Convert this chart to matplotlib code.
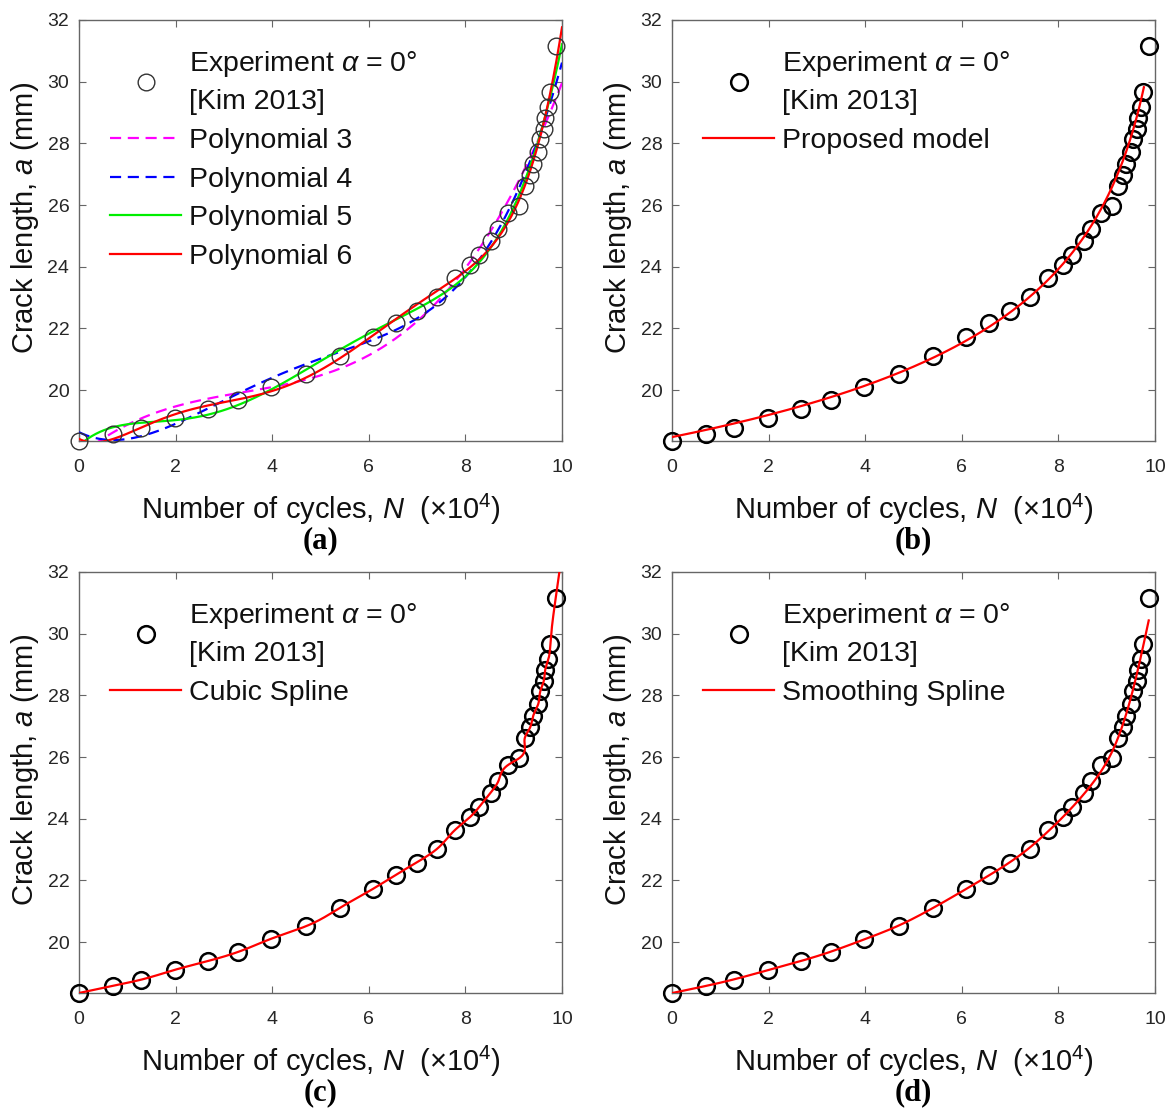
import numpy as np
import matplotlib
matplotlib.use("Agg")
import matplotlib.pyplot as plt
from matplotlib.lines import Line2D

# ---------------- data ----------------
N_exp = [0.00, 0.70, 1.28, 1.98, 2.68, 3.29, 3.98, 4.69, 5.40, 6.08,
         6.57, 6.99, 7.41, 7.78, 8.10, 8.29, 8.52, 8.68, 8.89, 9.12,
         9.23, 9.34, 9.40, 9.51, 9.55, 9.62, 9.65, 9.72, 9.76, 9.87]
a_exp = [18.35, 18.58, 18.78, 19.10, 19.39, 19.68, 20.11, 20.51, 21.11, 21.72,
         22.19, 22.58, 23.02, 23.63, 24.06, 24.39, 24.84, 25.21, 25.75, 25.97,
         26.62, 26.96, 27.32, 27.73, 28.13, 28.45, 28.81, 29.18, 29.68, 31.16]
# proposed-model curve
model_N = [0.00, 0.70, 1.28, 1.98, 2.68, 3.29, 3.98, 4.69, 5.40, 6.08,
           6.57, 6.99, 7.41, 7.78, 8.10, 8.52, 8.89, 9.23, 9.51, 9.77]
model_a = [18.35, 18.63, 18.87, 19.25, 19.56, 19.90, 20.28, 20.70, 21.17, 21.69,
           22.12, 22.46, 22.98, 23.52, 24.00, 24.72, 25.58, 26.56, 27.70, 29.95]
poly_degrees = [3, 4, 5, 6]
poly_labels = ["Polynomial 3", "Polynomial 4", "Polynomial 5", "Polynomial 6"]
poly_colors = ["#FF00FF", "#0000FF", "#00EE00", "#FF0000"]
poly_dashed = [True, True, False, False]
smooth_alpha = 0.03         # smoothing-spline penalty
x_ticks = [0, 2, 4, 6, 8, 10]
y_ticks = [20, 22, 24, 26, 28, 30, 32]
panel_tags = ["(a)", "(b)", "(c)", "(d)"]
exp_label = "Experiment $\\alpha$ = 0\u00b0\n[Kim 2013]"

N = np.array(N_exp)
a = np.array(a_exp)

# ---------------- helper fits (from the data) ----------------
def natural_spline(x, y):
    n = len(x)
    h = np.diff(x)
    A = np.zeros((n, n)); b = np.zeros(n)
    A[0, 0] = 1.0
    A[-1, -1] = 1.0
    for i in range(1, n - 1):
        A[i, i - 1] = h[i - 1]
        A[i, i] = 2 * (h[i - 1] + h[i])
        A[i, i + 1] = h[i]
        b[i] = 6 * ((y[i + 1] - y[i]) / h[i] - (y[i] - y[i - 1]) / h[i - 1])
    return np.linalg.solve(A, b)

def eval_spline(x, y, M, xq):
    xq = np.asarray(xq, dtype=float)
    xc = np.clip(xq, x[0], x[-1])
    idx = np.clip(np.searchsorted(x, xc) - 1, 0, len(x) - 2)
    x0, x1 = x[idx], x[idx + 1]
    hh = x1 - x0
    s = (M[idx] * (x1 - xc) ** 3 / (6 * hh) + M[idx + 1] * (xc - x0) ** 3 / (6 * hh)
         + (y[idx] / hh - M[idx] * hh / 6) * (x1 - xc)
         + (y[idx + 1] / hh - M[idx + 1] * hh / 6) * (xc - x0))
    hl = x[-1] - x[-2]
    slope = (y[-1] - y[-2]) / hl + hl * (M[-2] + 2 * M[-1]) / 6
    return np.where(xq > x[-1], y[-1] + slope * (xq - x[-1]), s)

def smoothing_spline(x, y, alpha):
    n = len(x)
    h = np.diff(x)
    Q = np.zeros((n, n - 2)); R = np.zeros((n - 2, n - 2))
    for j in range(1, n - 1):
        Q[j - 1, j - 1] = 1 / h[j - 1]
        Q[j, j - 1] = -1 / h[j - 1] - 1 / h[j]
        Q[j + 1, j - 1] = 1 / h[j]
        R[j - 1, j - 1] = (h[j - 1] + h[j]) / 3
        if j < n - 2:
            R[j - 1, j] = h[j] / 6
            R[j, j - 1] = h[j] / 6
    gam = np.linalg.solve(R + alpha * Q.T @ Q, Q.T @ y)
    g = y - alpha * Q @ gam
    M = np.concatenate([[0.0], gam, [0.0]])
    return g, M

def power_fit(x, y):
    best = None
    w = np.ones_like(x); w[-1] = 4.0
    for p in np.linspace(-10, -0.2, 500):
        c1, c0 = np.polyfit(x, y ** p, 1)
        if np.any(c0 + c1 * x <= 0):
            continue
        sse = np.sum(w * ((c0 + c1 * x) ** (1 / p) - y) ** 2)
        if best is None or sse < best[0]:
            best = (sse, p, c0, c1)
    return best[1:]

# ---------------- figure ----------------
plt.rcParams["font.family"] = ["Liberation Sans", "DejaVu Sans"]
plt.rcParams["mathtext.fontset"] = "custom"
plt.rcParams["mathtext.it"] = "Liberation Sans:italic"
plt.rcParams["mathtext.rm"] = "Liberation Sans"

W, H = 1173, 1113
fig = plt.figure(figsize=(W / 100, H / 100), dpi=100)
boxes = [(79, 20, 562, 441), (672, 20, 1155, 441),
         (79, 572, 562, 993), (672, 572, 1155, 993)]
axes = []
for (x0, y0, x1, y1) in boxes:
    ax = fig.add_axes([x0 / W, 1 - y1 / H, (x1 - x0) / W, (y1 - y0) / H])
    axes.append(ax)

ylo = a_exp[0]
for k, ax in enumerate(axes):
    ax.set_xlim(0, 10)
    ax.set_ylim(ylo, 32)
    ax.set_xticks(x_ticks)
    ax.set_yticks(y_ticks)
    ax.tick_params(direction="in", length=5, width=0.8, top=True, right=True,
                   labelsize=14, colors="#666666", labelcolor="#262626")
    ax.tick_params(axis="x", pad=13)
    ax.tick_params(axis="y", pad=7)
    for s in ax.spines.values():
        s.set_color("#666666"); s.set_linewidth(1.0)
    ax.set_xlabel("Number of cycles, $N$  ($\\times$10$^4$)", fontsize=21,
                  color="#111111", labelpad=11)
    ax.set_ylabel("Crack length, $a$ (mm)", fontsize=21, color="#111111")
    ax.yaxis.set_label_coords(-0.078, 0.53)
    cx = (boxes[k][0] + boxes[k][2]) / 2 / W
    fig.text(cx, 1 - (boxes[k][3] + 100) / H, panel_tags[k], ha="center", va="center",
             fontsize=22, fontweight="bold", family="Liberation Serif")

def add_legend(ax, hs, labs):
    leg = ax.legend(hs, labs, loc="upper left", bbox_to_anchor=(31 / 483, 1 - 29 / 421),
                    frameon=False, fontsize=20.5, handlelength=2.5, handletextpad=0.28,
                    labelspacing=0.45, borderpad=0, borderaxespad=0)
    for t in leg.get_texts():
        t.set_linespacing(1.5)
        t.set_color("#111111")

def exp_marker(ax):
    ax.plot(N, a, "o", ms=12, mfc="none", mec="black", mew=1.8, clip_on=False, zorder=5)
    return Line2D([], [], ls="none", marker="o", ms=12, mfc="none", mec="black", mew=1.8)

NN = np.linspace(0, 10, 600)
# (a) polynomial fits
ax = axes[0]
ax.plot(N, a, "o", ms=12, mfc="none", mec="#333333", mew=1.0, clip_on=False, zorder=5)
hs = [Line2D([], [], ls="none", marker="o", ms=12, mfc="none", mec="#333333", mew=1.0)]
for deg, lab, col, dsh in zip(poly_degrees, poly_labels, poly_colors, poly_dashed):
    c = np.polyfit(N, a, deg)
    ln, = ax.plot(NN, np.polyval(c, NN), color=col, lw=1.6,
                  ls=(0, (5, 3)) if dsh else "-", zorder=3)
    hs.append(ln)
add_legend(ax, hs, [exp_label] + poly_labels)

# (b) proposed model
ax = axes[1]
mN = np.array(model_N); ma = np.array(model_a)
p, c0, c1 = power_fit(mN, ma)
Nm = np.linspace(mN[0], mN[-1], 400)
lm, = ax.plot(Nm, (c0 + c1 * Nm) ** (1 / p), color="#FF0000", lw=1.6, zorder=6)
add_legend(ax, [exp_marker(ax), lm], [exp_label, "Proposed model"])

# (c) cubic spline N(a)
ax = axes[2]
M = natural_spline(a, N)
aq = np.linspace(a[0], 32.5, 900)
lc, = ax.plot(eval_spline(a, N, M, aq), aq, color="#FF0000", lw=1.6, zorder=6)
add_legend(ax, [exp_marker(ax), lc], [exp_label, "Cubic Spline"])

# (d) smoothing spline a(N)
ax = axes[3]
g, Ms = smoothing_spline(N, a, smooth_alpha)
Nq = np.linspace(0, N[-1], 600)
ld, = ax.plot(Nq, eval_spline(N, g, Ms, Nq), color="#FF0000", lw=1.6, zorder=6)
add_legend(ax, [exp_marker(ax), ld], [exp_label, "Smoothing Spline"])

fig.savefig("out.png", dpi=100)
